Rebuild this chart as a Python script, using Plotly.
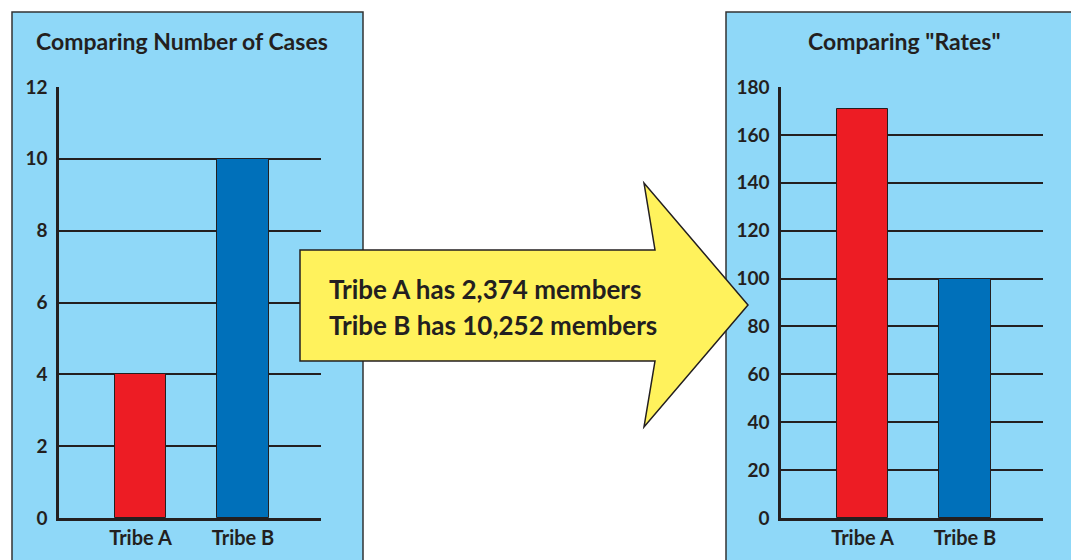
import plotly.graph_objects as go

W, H = 1079, 560
OFF = 8  # page body margin, figure lands 8px right/down of the window corner

tribes = ["Tribe A", "Tribe B"]
cases = [4, 10]
rates = [171, 100]
members = ["2,374", "10,252"]
bar_colors = ["#ed1c24", "#0070ba"]

left_title = "Comparing Number of Cases"
right_title = 'Comparing "Rates"'

PANEL = "#8fd8f8"
INK = "#231f20"
FONT = "Lato"


def px(x):
    return (x - OFF) / W


def py(y):
    return 1 - (y - OFF) / H


fig = go.Figure()

fig.add_trace(go.Bar(
    x=tribes, y=cases, width=0.5, marker=dict(color=bar_colors, line=dict(color=INK, width=1)),
    xaxis="x", yaxis="y", showlegend=False,
))
fig.add_trace(go.Bar(
    x=tribes, y=rates, width=0.5, marker=dict(color=bar_colors, line=dict(color=INK, width=1)),
    xaxis="x2", yaxis="y2", showlegend=False,
))

ydom = [py(518), py(87)]
xcommon = dict(
    range=[-0.795, 1.761], showgrid=False, zeroline=False, showline=True,
    linecolor=INK, linewidth=2.5, ticks="", ticklabelstandoff=0,
    tickfont=dict(family=FONT, size=20, color=INK, weight="bold"), fixedrange=True,
)
ycommon = dict(
    showgrid=True, gridcolor=INK, gridwidth=1.6, zeroline=False, showline=True,
    linecolor=INK, linewidth=2.5, ticks="", ticklabelstandoff=5,
    tickfont=dict(family=FONT, size=19, color=INK, weight="bold"), fixedrange=True,
)

# background panels
shapes = [
    dict(type="rect", xref="paper", yref="paper", x0=px(12), x1=px(363), y0=py(580), y1=py(12),
         fillcolor=PANEL, line=dict(color="#333", width=1.5), layer="below"),
    dict(type="rect", xref="paper", yref="paper", x0=px(726), x1=px(1077), y0=py(580), y1=py(12),
         fillcolor=PANEL, line=dict(color="#333", width=1.5), layer="below"),
]

# big yellow arrow
pts = [(300, 250), (655, 250), (644, 183), (748, 305), (644, 427), (655, 361), (300, 361)]
path = "M " + " L ".join(f"{px(x):.5f},{py(y):.5f}" for x, y in pts) + " Z"
shapes.append(dict(type="path", xref="paper", yref="paper", path=path,
                   fillcolor="#fff25c", line=dict(color=INK, width=1.5), layer="above"))

annotations = [
    dict(text=left_title, x=px(182), y=py(41), xref="paper", yref="paper", showarrow=False,
         xanchor="center", yanchor="middle", font=dict(family=FONT, size=23, color=INK, weight="bold")),
    dict(text=right_title, x=px(904), y=py(41), xref="paper", yref="paper", showarrow=False,
         xanchor="center", yanchor="middle", font=dict(family=FONT, size=23, color=INK, weight="bold")),
]
for i, (t, m) in enumerate(zip(tribes, members)):
    annotations.append(dict(
        text=f"{t} has {m} members", x=px(327), y=py(289 + 36 * i), xref="paper", yref="paper",
        xanchor="left", yanchor="middle", showarrow=False,
        font=dict(family=FONT, size=26, color=INK, weight="bold"),
    ))

fig.update_layout(
    width=W, height=H, autosize=False,
    margin=dict(l=0, r=0, t=0, b=0, pad=0, autoexpand=False),
    paper_bgcolor="white", plot_bgcolor="rgba(0,0,0,0)",
    xaxis=dict(domain=[px(59), px(321)], anchor="y", **xcommon),
    yaxis=dict(domain=ydom, anchor="x", range=[0, 12], dtick=2, **ycommon),
    xaxis2=dict(domain=[px(781), px(1043)], anchor="y2", **xcommon),
    yaxis2=dict(domain=ydom, anchor="x2", range=[0, 180], dtick=20, **ycommon),
    shapes=shapes, annotations=annotations,
    bargap=0,
)

fig.write_html("out.html", config={"displayModeBar": False})
